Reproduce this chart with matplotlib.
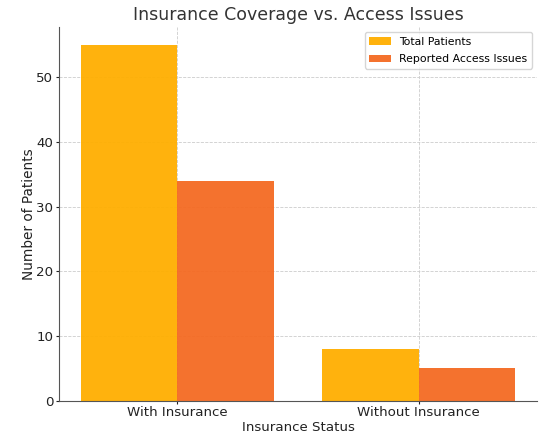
import numpy as np
import matplotlib.pyplot as plt

plt.rcParams["font.family"] = "DejaVu Sans"

categories = ["With Insurance", "Without Insurance"]
total_patients = [55, 8]
access_issues = [34, 5]

x = np.arange(len(categories))
width = 0.4

fig, ax = plt.subplots(figsize=(5.51, 4.4), dpi=100)
fig.subplots_adjust(left=0.107, right=0.975, top=0.939, bottom=0.089)

ax.bar(x - width / 2, total_patients, width, label="Total Patients", color="#FFAE00", alpha=0.95)
ax.bar(x + width / 2, access_issues, width, label="Reported Access Issues", color="#F46A22", alpha=0.95)

ax.set_title("Insurance Coverage vs. Access Issues", fontsize=12.5, color="#333333", pad=5)
ax.set_xlabel("Insurance Status", fontsize=9.6, color="#222222", labelpad=1)
ax.set_ylabel("Number of Patients", fontsize=9.8, color="#222222", labelpad=0)
ax.set_xticks(x)
ax.set_xticklabels(categories)
ax.tick_params(labelsize=9.6, colors="#222222", length=2.5, pad=1.5)

ax.set_axisbelow(True)
ax.grid(True, linestyle="--", linewidth=0.6, color="#cccccc")
for side in ["top", "right"]:
    ax.spines[side].set_visible(False)
for side in ["left", "bottom"]:
    ax.spines[side].set_color("#555555")

ax.legend(fontsize=7.8, loc="upper right", labelspacing=0.7)

plt.savefig("out.png")
